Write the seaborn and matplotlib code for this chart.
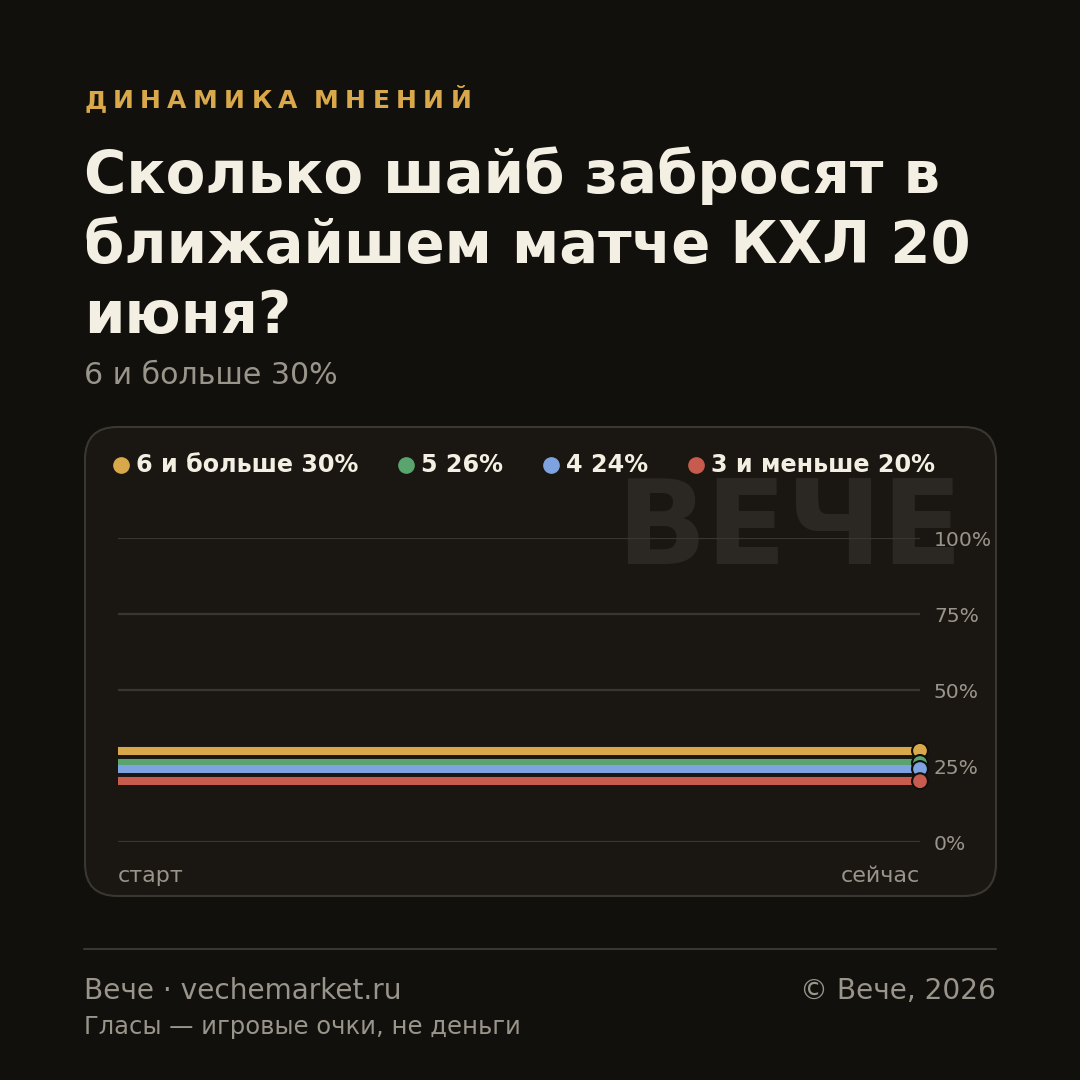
import pandas as pd
import matplotlib
matplotlib.use('Agg')
import matplotlib.pyplot as plt
from matplotlib.patches import FancyBboxPatch
from matplotlib.lines import Line2D
import seaborn as sns

# data
options = ["6 и больше", "5", "4", "3 и меньше"]
shares = [30, 26, 24, 20]
colors = ["#d9a84a", "#5aa46e", "#7fa3e0", "#c65b4e"]
x_labels = ["старт", "сейчас"]
y_ticks = [0, 25, 50, 75, 100]
title_lines = ["Сколько шайб забросят в", "ближайшем матче КХЛ 20", "июня?"]

BG = "#12100d"
PANEL = "#1a1713"
EDGE = "#3a3630"
GRID = "#3a362f"
TEXT = "#f3efe3"
MUTED = "#9a958a"

sns.set_theme(style="dark")
plt.rcParams['font.family'] = ['DejaVu Sans']

rows = []
for name, val in zip(options, shares):
    for i in range(len(x_labels)):
        rows.append({"t": i, "share": val, "option": name})
df = pd.DataFrame(rows)

fig = plt.figure(figsize=(10.8, 10.8), dpi=100, facecolor=BG)
renderer = fig.canvas.get_renderer()

def fx(px):
    return px / 1080

def fy(py):
    return 1 - py / 1080

# kicker with letter spacing
kicker = "ДИНАМИКА МНЕНИЙ"
cx = 84
track = 6.4
for ch in kicker:
    if ch == " ":
        cx += 10
        continue
    t = fig.text(fx(cx), fy(108), ch, color="#d9a84a", fontsize=18,
                 fontweight="bold", va="baseline", ha="left")
    cx += t.get_window_extent(renderer).width + track

# title
for i, line in enumerate(title_lines):
    fig.text(fx(84), fy(193 + 70 * i), line, color=TEXT, fontsize=41.6,
             fontweight="bold", va="baseline", ha="left")
fig.text(fx(84), fy(376), f"{options[0]} {shares[0]}%", color=MUTED, fontsize=21.6,
         va="center", ha="left")

# panel
panel = FancyBboxPatch((fx(85), fy(896)), fx(996 - 85), fx(896 - 427),
                       boxstyle="round,pad=0,rounding_size=0.03",
                       transform=fig.transFigure, facecolor=PANEL, edgecolor=EDGE,
                       linewidth=1.5, zorder=-2)
fig.patches.append(panel)

# watermark
fig.text(fx(963), fy(564), "ВЕЧЕ", color="#2b2823", fontsize=85, fontweight="bold",
         ha="right", va="baseline", zorder=-1)

# legend
leg_x = [121, 406, 551, 696]
for lx, name, val, c in zip(leg_x, options, shares, colors):
    fig.add_artist(Line2D([fx(lx)], [fy(465)], marker="o", markersize=11,
                          color=c, linestyle="none", transform=fig.transFigure))
    fig.text(fx(lx + 15), fy(465), f"{name} {val}%", color=TEXT, fontsize=17.2,
             fontweight="bold", va="center", ha="left")

# chart
ax = fig.add_axes([fx(118), fy(842), fx(920 - 118), fx(842 - 538)], zorder=2)
ax.set_facecolor("none")
sns.lineplot(data=df, x="t", y="share", hue="option", hue_order=options,
             palette=colors, linewidth=5.8, legend=False, ax=ax,
             solid_capstyle="butt", zorder=3)
last = df[df["t"] == len(x_labels) - 1]
sns.scatterplot(data=last, x="t", y="share", hue="option", hue_order=options,
                palette=colors, s=130, edgecolor=BG, linewidth=1.5,
                legend=False, ax=ax, clip_on=False, zorder=4)
ax.set_xlim(0, 1)
ax.set_ylim(0, 100)
ax.set_yticks(y_ticks)
ax.set_yticklabels([f"{v}%" for v in y_ticks])
ax.yaxis.tick_right()
ax.set_xticks(range(len(x_labels)))
ax.set_xticklabels(x_labels)
xl = ax.get_xticklabels()
xl[0].set_ha("left")
xl[-1].set_ha("right")
ax.tick_params(axis="y", length=0, pad=10, labelsize=14.6, labelcolor=MUTED)
ax.tick_params(axis="x", length=0, pad=17, labelsize=16, labelcolor=MUTED)
ax.grid(axis="y", color=GRID, linewidth=1.6)
ax.grid(axis="x", visible=False)
for s in ax.spines.values():
    s.set_visible(False)
ax.set_xlabel("")
ax.set_ylabel("")

# footer
fig.add_artist(Line2D([fx(84), fx(996)], [fy(949), fy(949)], color=EDGE,
                      linewidth=1.5, transform=fig.transFigure))
fig.text(fx(84), fy(991), "Вече · vechemarket.ru", color=MUTED, fontsize=20.2,
         va="center", ha="left")
fig.text(fx(996), fy(991), "© Вече, 2026", color=MUTED, fontsize=20.2,
         va="center", ha="right")
fig.text(fx(84), fy(1027), "Гласы — игровые очки, не деньги", color=MUTED, fontsize=17.5,
         va="center", ha="left")

fig.savefig("out.png", dpi=100, facecolor=BG)
